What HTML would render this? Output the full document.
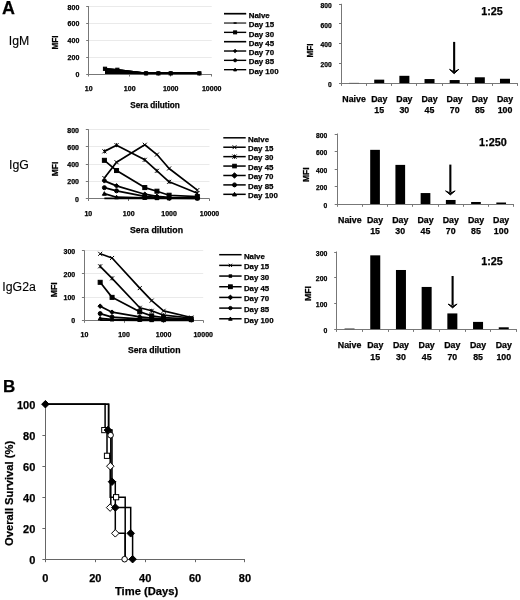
<!DOCTYPE html>
<html><head><meta charset="utf-8"><title>Figure</title>
<style>
html,body{margin:0;padding:0;background:#fff;}
body{width:520px;height:600px;overflow:hidden;position:relative;font-family:"Liberation Sans",sans-serif;}
</style></head><body>
<svg width="520" height="600" viewBox="0 0 520 600" style="position:absolute;left:0;top:0;will-change:transform">
<rect width="520" height="600" fill="#fff"/>
<g font-family="&quot;Liberation Sans&quot;, sans-serif" fill="#000">
<style>text{stroke:#000;stroke-width:0.25px}</style>
<text x="2.1" y="13.7" font-size="17.9" font-weight="bold" text-anchor="start" >A</text>
<text x="19" y="45.3" font-size="12.3" font-weight="normal" text-anchor="middle"  style="stroke-width:0.12px">IgM</text>
<text x="19" y="168.5" font-size="12.3" font-weight="normal" text-anchor="middle"  style="stroke-width:0.12px">IgG</text>
<text x="19.1" y="291.2" font-size="12.3" font-weight="normal" text-anchor="middle"  style="stroke-width:0.12px">IgG2a</text>
<line x1="88.7" y1="57.5" x2="211.7" y2="57.5" stroke="#eaeaea" stroke-width="1"/>
<line x1="88.7" y1="40.5" x2="211.7" y2="40.5" stroke="#eaeaea" stroke-width="1"/>
<line x1="88.7" y1="23.5" x2="211.7" y2="23.5" stroke="#eaeaea" stroke-width="1"/>
<line x1="88.7" y1="6.5" x2="211.7" y2="6.5" stroke="#eaeaea" stroke-width="1"/>
<line x1="88.5" y1="6.1" x2="88.5" y2="74" stroke="#777777" stroke-width="1"/>
<line x1="88.7" y1="74.5" x2="211.7" y2="74.5" stroke="#777777" stroke-width="1"/>
<line x1="86.2" y1="74.5" x2="88.7" y2="74.5" stroke="#777777" stroke-width="1"/>
<text x="79.3" y="77.02" font-size="7" font-weight="bold" text-anchor="end" >0</text>
<line x1="86.2" y1="57.5" x2="88.7" y2="57.5" stroke="#777777" stroke-width="1"/>
<text x="79.3" y="60.17" font-size="7" font-weight="bold" text-anchor="end" >200</text>
<line x1="86.2" y1="40.5" x2="88.7" y2="40.5" stroke="#777777" stroke-width="1"/>
<text x="79.3" y="43.32" font-size="7" font-weight="bold" text-anchor="end" >400</text>
<line x1="86.2" y1="23.5" x2="88.7" y2="23.5" stroke="#777777" stroke-width="1"/>
<text x="79.3" y="26.47" font-size="7" font-weight="bold" text-anchor="end" >600</text>
<line x1="86.2" y1="6.5" x2="88.7" y2="6.5" stroke="#777777" stroke-width="1"/>
<text x="79.3" y="9.62" font-size="7" font-weight="bold" text-anchor="end" >800</text>
<line x1="88.5" y1="74" x2="88.5" y2="76.5" stroke="#777777" stroke-width="1"/>
<text x="88.7" y="90.7" font-size="7" font-weight="bold" text-anchor="middle" >10</text>
<line x1="129.5" y1="74" x2="129.5" y2="76.5" stroke="#777777" stroke-width="1"/>
<text x="129.7" y="90.7" font-size="7" font-weight="bold" text-anchor="middle" >100</text>
<line x1="170.5" y1="74" x2="170.5" y2="76.5" stroke="#777777" stroke-width="1"/>
<text x="170.7" y="90.7" font-size="7" font-weight="bold" text-anchor="middle" >1000</text>
<line x1="211.5" y1="74" x2="211.5" y2="76.5" stroke="#777777" stroke-width="1"/>
<text x="211.7" y="90.7" font-size="7" font-weight="bold" text-anchor="middle" >10000</text>
<polyline points="105.02,72.99 117.36,73.16 146.02,73.33 158.36,73.33 170.7,73.33 199.36,73.33" fill="none" stroke="#000" stroke-width="1.5" stroke-linejoin="round"/>
<polyline points="105.02,68.78 117.36,69.79 146.02,73.33 158.36,73.33 170.7,73.33 199.36,73.33" fill="none" stroke="#000" stroke-width="1.5" stroke-linejoin="round"/>
<polyline points="105.02,68.94 117.36,69.96 146.02,73.33 158.36,73.33 170.7,73.33 199.36,73.33" fill="none" stroke="#000" stroke-width="1.5" stroke-linejoin="round"/>
<polyline points="105.02,69.79 117.36,70.63 146.02,73.33 158.36,73.33 170.7,73.33 199.36,73.33" fill="none" stroke="#000" stroke-width="1.5" stroke-linejoin="round"/>
<polyline points="105.02,70.63 117.36,71.3 146.02,73.33 158.36,73.33 170.7,73.33 199.36,73.33" fill="none" stroke="#000" stroke-width="1.5" stroke-linejoin="round"/>
<polyline points="105.02,71.47 117.36,71.98 146.02,73.33 158.36,73.33 170.7,73.33 199.36,73.33" fill="none" stroke="#000" stroke-width="1.5" stroke-linejoin="round"/>
<polyline points="105.02,72.31 117.36,72.65 146.02,73.33 158.36,73.33 170.7,73.33 199.36,73.33" fill="none" stroke="#000" stroke-width="1.5" stroke-linejoin="round"/>
<polyline points="105.02,73.24 117.36,73.24 146.02,73.33 158.36,73.33 170.7,73.33 199.36,73.33" fill="none" stroke="#000" stroke-width="1.6" stroke-linejoin="round"/>
<circle cx="146.02" cy="73.33" r="1.6" fill="#000" stroke="#000" stroke-width="1"/>
<circle cx="158.36" cy="73.33" r="1.6" fill="#000" stroke="#000" stroke-width="1"/>
<circle cx="170.7" cy="73.33" r="1.6" fill="#000" stroke="#000" stroke-width="1"/>
<circle cx="199.36" cy="73.33" r="1.6" fill="#000" stroke="#000" stroke-width="1"/>
<polyline points="105.02,68.78 117.36,69.79 146.02,73.33 158.36,73.33 170.7,73.33 199.36,73.33" fill="none" stroke="#000" stroke-width="1.5" stroke-linejoin="round"/>
<rect x="103.42" y="67.18" width="3.2" height="3.2" fill="#000" stroke="#000" stroke-width="1"/>
<rect x="115.76" y="68.19" width="3.2" height="3.2" fill="#000" stroke="#000" stroke-width="1"/>
<rect x="144.42" y="71.73" width="3.2" height="3.2" fill="#000" stroke="#000" stroke-width="1"/>
<rect x="156.76" y="71.73" width="3.2" height="3.2" fill="#000" stroke="#000" stroke-width="1"/>
<rect x="169.1" y="71.73" width="3.2" height="3.2" fill="#000" stroke="#000" stroke-width="1"/>
<rect x="197.76" y="71.73" width="3.2" height="3.2" fill="#000" stroke="#000" stroke-width="1"/>
<line x1="224" y1="13.7" x2="246.2" y2="13.7" stroke="#000" stroke-width="1.7"/>
<text x="248.7" y="17.84" font-size="7.9" font-weight="bold" text-anchor="start" >Naive</text>
<line x1="224" y1="23.03" x2="246.2" y2="23.03" stroke="#000" stroke-width="1.1"/>
<path d="M233.6 23.03L236.6 23.03" stroke="#000" stroke-width="1.5" fill="none"/>
<text x="248.7" y="27.17" font-size="7.9" font-weight="bold" text-anchor="start" >Day 15</text>
<line x1="224" y1="32.36" x2="246.2" y2="32.36" stroke="#000" stroke-width="1.4"/>
<rect x="233.6" y="30.86" width="3" height="3" fill="#000" stroke="#000" stroke-width="1"/>
<text x="248.7" y="36.5" font-size="7.9" font-weight="bold" text-anchor="start" >Day 30</text>
<line x1="224" y1="41.69" x2="246.2" y2="41.69" stroke="#000" stroke-width="1.6"/>
<text x="248.7" y="45.83" font-size="7.9" font-weight="bold" text-anchor="start" >Day 45</text>
<line x1="224" y1="51.02" x2="246.2" y2="51.02" stroke="#000" stroke-width="1.4"/>
<path d="M235.1 49.34L236.78 51.02L235.1 52.7L233.42 51.02Z" fill="#000" stroke="#000" stroke-width="1"/>
<text x="248.7" y="55.16" font-size="7.9" font-weight="bold" text-anchor="start" >Day 70</text>
<line x1="224" y1="60.35" x2="246.2" y2="60.35" stroke="#000" stroke-width="1.4"/>
<circle cx="235.1" cy="60.35" r="1.5" fill="#000" stroke="#000" stroke-width="1"/>
<text x="248.7" y="64.49" font-size="7.9" font-weight="bold" text-anchor="start" >Day 85</text>
<line x1="224" y1="69.68" x2="246.2" y2="69.68" stroke="#000" stroke-width="1.4"/>
<path d="M235.1 68.18L236.6 70.88L233.6 70.88Z" fill="#000" stroke="#000" stroke-width="1"/>
<text x="248.7" y="73.82" font-size="7.9" font-weight="bold" text-anchor="start" >Day 100</text>
<text x="155" y="107.8" font-size="8.2" font-weight="bold" text-anchor="middle" >Sera dilution</text>
<text transform="translate(55,42.4) rotate(-90)" x="0" y="0" font-size="8.2" font-weight="bold" text-anchor="middle" dominant-baseline="central">MFI</text>
<line x1="88.3" y1="181.5" x2="209.5" y2="181.5" stroke="#eaeaea" stroke-width="1"/>
<line x1="88.3" y1="164.5" x2="209.5" y2="164.5" stroke="#eaeaea" stroke-width="1"/>
<line x1="88.3" y1="146.5" x2="209.5" y2="146.5" stroke="#eaeaea" stroke-width="1"/>
<line x1="88.3" y1="129.5" x2="209.5" y2="129.5" stroke="#eaeaea" stroke-width="1"/>
<line x1="88.5" y1="129.2" x2="88.5" y2="198.5" stroke="#777777" stroke-width="1"/>
<line x1="88.3" y1="198.5" x2="209.5" y2="198.5" stroke="#777777" stroke-width="1"/>
<line x1="85.8" y1="198.5" x2="88.3" y2="198.5" stroke="#777777" stroke-width="1"/>
<text x="79" y="201.52" font-size="7" font-weight="bold" text-anchor="end" >0</text>
<line x1="85.8" y1="181.5" x2="88.3" y2="181.5" stroke="#777777" stroke-width="1"/>
<text x="79" y="184.32" font-size="7" font-weight="bold" text-anchor="end" >200</text>
<line x1="85.8" y1="164.5" x2="88.3" y2="164.5" stroke="#777777" stroke-width="1"/>
<text x="79" y="167.12" font-size="7" font-weight="bold" text-anchor="end" >400</text>
<line x1="85.8" y1="146.5" x2="88.3" y2="146.5" stroke="#777777" stroke-width="1"/>
<text x="79" y="149.92" font-size="7" font-weight="bold" text-anchor="end" >600</text>
<line x1="85.8" y1="129.5" x2="88.3" y2="129.5" stroke="#777777" stroke-width="1"/>
<text x="79" y="132.72" font-size="7" font-weight="bold" text-anchor="end" >800</text>
<line x1="88.5" y1="198.5" x2="88.5" y2="201" stroke="#777777" stroke-width="1"/>
<text x="88.3" y="215.5" font-size="7" font-weight="bold" text-anchor="middle" >10</text>
<line x1="128.5" y1="198.5" x2="128.5" y2="201" stroke="#777777" stroke-width="1"/>
<text x="128.7" y="215.5" font-size="7" font-weight="bold" text-anchor="middle" >100</text>
<line x1="169.5" y1="198.5" x2="169.5" y2="201" stroke="#777777" stroke-width="1"/>
<text x="169.1" y="215.5" font-size="7" font-weight="bold" text-anchor="middle" >1000</text>
<line x1="209.5" y1="198.5" x2="209.5" y2="201" stroke="#777777" stroke-width="1"/>
<text x="209.5" y="215.5" font-size="7" font-weight="bold" text-anchor="middle" >10000</text>
<polyline points="104.38,198.33 116.54,198.41 144.78,198.41 156.94,198.5 169.1,198.5 197.34,198.5" fill="none" stroke="#000" stroke-width="1.7" stroke-linejoin="round"/>
<polyline points="104.38,178.03 116.54,162.21 144.78,144.75 156.94,154.55 169.1,168.49 197.34,190.07" fill="none" stroke="#000" stroke-width="1.7" stroke-linejoin="round"/>
<path d="M102.38 176.03L106.38 180.03M106.38 176.03L102.38 180.03" stroke="#000" stroke-width="1" fill="none"/>
<path d="M114.54 160.21L118.54 164.21M118.54 160.21L114.54 164.21" stroke="#000" stroke-width="1" fill="none"/>
<path d="M142.78 142.75L146.78 146.75M146.78 142.75L142.78 146.75" stroke="#000" stroke-width="1" fill="none"/>
<path d="M154.94 152.55L158.94 156.55M158.94 152.55L154.94 156.55" stroke="#000" stroke-width="1" fill="none"/>
<path d="M167.1 166.49L171.1 170.49M171.1 166.49L167.1 170.49" stroke="#000" stroke-width="1" fill="none"/>
<path d="M195.34 188.07L199.34 192.07M199.34 188.07L195.34 192.07" stroke="#000" stroke-width="1" fill="none"/>
<polyline points="104.38,151.37 116.54,145.18 144.78,159.8 156.94,170.81 169.1,181.82 197.34,193.17" fill="none" stroke="#000" stroke-width="1.7" stroke-linejoin="round"/>
<path d="M102.38 149.37L106.38 153.37M106.38 149.37L102.38 153.37M104.38 149.37L104.38 153.37" stroke="#000" stroke-width="1" fill="none"/>
<path d="M114.54 143.18L118.54 147.18M118.54 143.18L114.54 147.18M116.54 143.18L116.54 147.18" stroke="#000" stroke-width="1" fill="none"/>
<path d="M142.78 157.8L146.78 161.8M146.78 157.8L142.78 161.8M144.78 157.8L144.78 161.8" stroke="#000" stroke-width="1" fill="none"/>
<path d="M154.94 168.81L158.94 172.81M158.94 168.81L154.94 172.81M156.94 168.81L156.94 172.81" stroke="#000" stroke-width="1" fill="none"/>
<path d="M167.1 179.82L171.1 183.82M171.1 179.82L167.1 183.82M169.1 179.82L169.1 183.82" stroke="#000" stroke-width="1" fill="none"/>
<path d="M195.34 191.17L199.34 195.17M199.34 191.17L195.34 195.17M197.34 191.17L197.34 195.17" stroke="#000" stroke-width="1" fill="none"/>
<polyline points="104.38,160.32 116.54,170.55 144.78,187.58 156.94,191.19 169.1,195.23 197.34,196.61" fill="none" stroke="#000" stroke-width="1.7" stroke-linejoin="round"/>
<rect x="102.38" y="158.32" width="4" height="4" fill="#000" stroke="#000" stroke-width="1"/>
<rect x="114.54" y="168.55" width="4" height="4" fill="#000" stroke="#000" stroke-width="1"/>
<rect x="142.78" y="185.58" width="4" height="4" fill="#000" stroke="#000" stroke-width="1"/>
<rect x="154.94" y="189.19" width="4" height="4" fill="#000" stroke="#000" stroke-width="1"/>
<rect x="167.1" y="193.23" width="4" height="4" fill="#000" stroke="#000" stroke-width="1"/>
<rect x="195.34" y="194.61" width="4" height="4" fill="#000" stroke="#000" stroke-width="1"/>
<polyline points="104.38,180.87 116.54,185.86 144.78,194.2 156.94,196.35 169.1,197.47 197.34,197.81" fill="none" stroke="#000" stroke-width="1.7" stroke-linejoin="round"/>
<path d="M104.38 178.63L106.62 180.87L104.38 183.11L102.14 180.87Z" fill="#000" stroke="#000" stroke-width="1"/>
<path d="M116.54 183.62L118.78 185.86L116.54 188.1L114.3 185.86Z" fill="#000" stroke="#000" stroke-width="1"/>
<path d="M144.78 191.96L147.02 194.2L144.78 196.44L142.54 194.2Z" fill="#000" stroke="#000" stroke-width="1"/>
<path d="M156.94 194.11L159.18 196.35L156.94 198.59L154.7 196.35Z" fill="#000" stroke="#000" stroke-width="1"/>
<path d="M169.1 195.23L171.34 197.47L169.1 199.71L166.86 197.47Z" fill="#000" stroke="#000" stroke-width="1"/>
<path d="M197.34 195.57L199.58 197.81L197.34 200.05L195.1 197.81Z" fill="#000" stroke="#000" stroke-width="1"/>
<polyline points="104.38,187.66 116.54,190.85 144.78,196.35 156.94,197.47 169.1,197.98 197.34,198.24" fill="none" stroke="#000" stroke-width="1.7" stroke-linejoin="round"/>
<circle cx="104.38" cy="187.66" r="2" fill="#000" stroke="#000" stroke-width="1"/>
<circle cx="116.54" cy="190.85" r="2" fill="#000" stroke="#000" stroke-width="1"/>
<circle cx="144.78" cy="196.35" r="2" fill="#000" stroke="#000" stroke-width="1"/>
<circle cx="156.94" cy="197.47" r="2" fill="#000" stroke="#000" stroke-width="1"/>
<circle cx="169.1" cy="197.98" r="2" fill="#000" stroke="#000" stroke-width="1"/>
<circle cx="197.34" cy="198.24" r="2" fill="#000" stroke="#000" stroke-width="1"/>
<polyline points="104.38,193.68 116.54,197.21 144.78,197.81 156.94,198.07 169.1,198.24 197.34,198.33" fill="none" stroke="#000" stroke-width="1.7" stroke-linejoin="round"/>
<path d="M104.38 191.68L106.38 195.28L102.38 195.28Z" fill="#000" stroke="#000" stroke-width="1"/>
<path d="M116.54 195.21L118.54 198.81L114.54 198.81Z" fill="#000" stroke="#000" stroke-width="1"/>
<path d="M144.78 195.81L146.78 199.41L142.78 199.41Z" fill="#000" stroke="#000" stroke-width="1"/>
<path d="M156.94 196.07L158.94 199.67L154.94 199.67Z" fill="#000" stroke="#000" stroke-width="1"/>
<path d="M169.1 196.24L171.1 199.84L167.1 199.84Z" fill="#000" stroke="#000" stroke-width="1"/>
<path d="M197.34 196.33L199.34 199.93L195.34 199.93Z" fill="#000" stroke="#000" stroke-width="1"/>
<line x1="223.3" y1="137.8" x2="245.7" y2="137.8" stroke="#000" stroke-width="1.5"/>
<text x="248" y="141.64" font-size="7.9" font-weight="bold" text-anchor="start" >Naive</text>
<line x1="223.3" y1="147.22" x2="245.7" y2="147.22" stroke="#000" stroke-width="1.5"/>
<path d="M232.6 145.32L236.4 149.12M236.4 145.32L232.6 149.12" stroke="#000" stroke-width="1" fill="none"/>
<text x="248" y="151.06" font-size="7.9" font-weight="bold" text-anchor="start" >Day 15</text>
<line x1="223.3" y1="156.64" x2="245.7" y2="156.64" stroke="#000" stroke-width="1.5"/>
<path d="M232.4 154.54L236.6 158.74M236.6 154.54L232.4 158.74M234.5 154.54L234.5 158.74" stroke="#000" stroke-width="1" fill="none"/>
<text x="248" y="160.48" font-size="7.9" font-weight="bold" text-anchor="start" >Day 30</text>
<line x1="223.3" y1="166.06" x2="245.7" y2="166.06" stroke="#000" stroke-width="1.5"/>
<rect x="232.7" y="164.26" width="3.6" height="3.6" fill="#000" stroke="#000" stroke-width="1"/>
<text x="248" y="169.9" font-size="7.9" font-weight="bold" text-anchor="start" >Day 45</text>
<line x1="223.3" y1="175.48" x2="245.7" y2="175.48" stroke="#000" stroke-width="1.5"/>
<path d="M234.5 172.79L237.19 175.48L234.5 178.17L231.81 175.48Z" fill="#000" stroke="#000" stroke-width="1"/>
<text x="248" y="179.32" font-size="7.9" font-weight="bold" text-anchor="start" >Day 70</text>
<line x1="223.3" y1="184.9" x2="245.7" y2="184.9" stroke="#000" stroke-width="1.5"/>
<circle cx="234.5" cy="184.9" r="2" fill="#000" stroke="#000" stroke-width="1"/>
<text x="248" y="188.74" font-size="7.9" font-weight="bold" text-anchor="start" >Day 85</text>
<line x1="223.3" y1="194.32" x2="245.7" y2="194.32" stroke="#000" stroke-width="1.5"/>
<path d="M234.5 192.32L236.5 195.92L232.5 195.92Z" fill="#000" stroke="#000" stroke-width="1"/>
<text x="248" y="198.16" font-size="7.9" font-weight="bold" text-anchor="start" >Day 100</text>
<text x="156.5" y="232.9" font-size="8.75" font-weight="bold" text-anchor="middle" >Sera dilution</text>
<text transform="translate(55.4,168.9) rotate(-90)" x="0" y="0" font-size="8.5" font-weight="bold" text-anchor="middle" dominant-baseline="central">MFI</text>
<line x1="84.4" y1="297.5" x2="203.2" y2="297.5" stroke="#eaeaea" stroke-width="1"/>
<line x1="84.4" y1="273.5" x2="203.2" y2="273.5" stroke="#eaeaea" stroke-width="1"/>
<line x1="84.4" y1="250.5" x2="203.2" y2="250.5" stroke="#eaeaea" stroke-width="1"/>
<line x1="84.5" y1="250.3" x2="84.5" y2="320.3" stroke="#777777" stroke-width="1"/>
<line x1="84.4" y1="320.5" x2="203.2" y2="320.5" stroke="#777777" stroke-width="1"/>
<line x1="81.9" y1="320.5" x2="84.4" y2="320.5" stroke="#777777" stroke-width="1"/>
<text x="75.2" y="323.32" font-size="7" font-weight="bold" text-anchor="end" >0</text>
<line x1="81.9" y1="297.5" x2="84.4" y2="297.5" stroke="#777777" stroke-width="1"/>
<text x="75.2" y="300.15" font-size="7" font-weight="bold" text-anchor="end" >100</text>
<line x1="81.9" y1="273.5" x2="84.4" y2="273.5" stroke="#777777" stroke-width="1"/>
<text x="75.2" y="276.99" font-size="7" font-weight="bold" text-anchor="end" >200</text>
<line x1="81.9" y1="250.5" x2="84.4" y2="250.5" stroke="#777777" stroke-width="1"/>
<text x="75.2" y="253.82" font-size="7" font-weight="bold" text-anchor="end" >300</text>
<line x1="84.5" y1="320.3" x2="84.5" y2="322.8" stroke="#777777" stroke-width="1"/>
<text x="84.4" y="336.8" font-size="7" font-weight="bold" text-anchor="middle" >10</text>
<line x1="124.5" y1="320.3" x2="124.5" y2="322.8" stroke="#777777" stroke-width="1"/>
<text x="124" y="336.8" font-size="7" font-weight="bold" text-anchor="middle" >100</text>
<line x1="163.5" y1="320.3" x2="163.5" y2="322.8" stroke="#777777" stroke-width="1"/>
<text x="163.6" y="336.8" font-size="7" font-weight="bold" text-anchor="middle" >1000</text>
<line x1="203.5" y1="320.3" x2="203.5" y2="322.8" stroke="#777777" stroke-width="1"/>
<text x="203.2" y="336.8" font-size="7" font-weight="bold" text-anchor="middle" >10000</text>
<polyline points="100.16,320.07 112.08,320.07 139.76,320.3 151.68,320.3 163.6,320.3 191.28,320.3" fill="none" stroke="#000" stroke-width="1.7" stroke-linejoin="round"/>
<polyline points="100.16,253.81 112.08,257.98 139.76,288.1 151.68,300.61 163.6,310.8 191.28,317.52" fill="none" stroke="#000" stroke-width="1.7" stroke-linejoin="round"/>
<path d="M98.16 251.81L102.16 255.81M102.16 251.81L98.16 255.81" stroke="#000" stroke-width="1" fill="none"/>
<path d="M110.08 255.98L114.08 259.98M114.08 255.98L110.08 259.98" stroke="#000" stroke-width="1" fill="none"/>
<path d="M137.76 286.1L141.76 290.1M141.76 286.1L137.76 290.1" stroke="#000" stroke-width="1" fill="none"/>
<path d="M149.68 298.61L153.68 302.61M153.68 298.61L149.68 302.61" stroke="#000" stroke-width="1" fill="none"/>
<path d="M161.6 308.8L165.6 312.8M165.6 308.8L161.6 312.8" stroke="#000" stroke-width="1" fill="none"/>
<path d="M189.28 315.52L193.28 319.52M193.28 315.52L189.28 319.52" stroke="#000" stroke-width="1" fill="none"/>
<polyline points="100.16,266.32 112.08,278.37 139.76,307.79 151.68,310.8 163.6,315.2 191.28,317.98" fill="none" stroke="#000" stroke-width="1.7" stroke-linejoin="round"/>
<path d="M98.16 264.32L102.16 268.32M102.16 264.32L98.16 268.32M100.16 264.32L100.16 268.32" stroke="#000" stroke-width="1" fill="none"/>
<path d="M110.08 276.37L114.08 280.37M114.08 276.37L110.08 280.37M112.08 276.37L112.08 280.37" stroke="#000" stroke-width="1" fill="none"/>
<path d="M137.76 305.79L141.76 309.79M141.76 305.79L137.76 309.79M139.76 305.79L139.76 309.79" stroke="#000" stroke-width="1" fill="none"/>
<path d="M149.68 308.8L153.68 312.8M153.68 308.8L149.68 312.8M151.68 308.8L151.68 312.8" stroke="#000" stroke-width="1" fill="none"/>
<path d="M161.6 313.2L165.6 317.2M165.6 313.2L161.6 317.2M163.6 313.2L163.6 317.2" stroke="#000" stroke-width="1" fill="none"/>
<path d="M189.28 315.98L193.28 319.98M193.28 315.98L189.28 319.98M191.28 315.98L191.28 319.98" stroke="#000" stroke-width="1" fill="none"/>
<polyline points="100.16,282.31 112.08,297.37 139.76,311.73 151.68,315.9 163.6,317.52 191.28,319.14" fill="none" stroke="#000" stroke-width="1.7" stroke-linejoin="round"/>
<rect x="98.16" y="280.31" width="4" height="4" fill="#000" stroke="#000" stroke-width="1"/>
<rect x="110.08" y="295.37" width="4" height="4" fill="#000" stroke="#000" stroke-width="1"/>
<rect x="137.76" y="309.73" width="4" height="4" fill="#000" stroke="#000" stroke-width="1"/>
<rect x="149.68" y="313.9" width="4" height="4" fill="#000" stroke="#000" stroke-width="1"/>
<rect x="161.6" y="315.52" width="4" height="4" fill="#000" stroke="#000" stroke-width="1"/>
<rect x="189.28" y="317.14" width="4" height="4" fill="#000" stroke="#000" stroke-width="1"/>
<polyline points="100.16,306.17 112.08,312.19 139.76,316.82 151.68,317.98 163.6,318.91 191.28,319.61" fill="none" stroke="#000" stroke-width="1.7" stroke-linejoin="round"/>
<path d="M100.16 303.93L102.4 306.17L100.16 308.41L97.92 306.17Z" fill="#000" stroke="#000" stroke-width="1"/>
<path d="M112.08 309.95L114.32 312.19L112.08 314.43L109.84 312.19Z" fill="#000" stroke="#000" stroke-width="1"/>
<path d="M139.76 314.58L142 316.82L139.76 319.06L137.52 316.82Z" fill="#000" stroke="#000" stroke-width="1"/>
<path d="M151.68 315.74L153.92 317.98L151.68 320.22L149.44 317.98Z" fill="#000" stroke="#000" stroke-width="1"/>
<path d="M163.6 316.67L165.84 318.91L163.6 321.15L161.36 318.91Z" fill="#000" stroke="#000" stroke-width="1"/>
<path d="M191.28 317.37L193.52 319.61L191.28 321.85L189.04 319.61Z" fill="#000" stroke="#000" stroke-width="1"/>
<polyline points="100.16,313.58 112.08,317.06 139.76,318.91 151.68,319.37 163.6,319.61 191.28,319.84" fill="none" stroke="#000" stroke-width="1.7" stroke-linejoin="round"/>
<circle cx="100.16" cy="313.58" r="2" fill="#000" stroke="#000" stroke-width="1"/>
<circle cx="112.08" cy="317.06" r="2" fill="#000" stroke="#000" stroke-width="1"/>
<circle cx="139.76" cy="318.91" r="2" fill="#000" stroke="#000" stroke-width="1"/>
<circle cx="151.68" cy="319.37" r="2" fill="#000" stroke="#000" stroke-width="1"/>
<circle cx="163.6" cy="319.61" r="2" fill="#000" stroke="#000" stroke-width="1"/>
<circle cx="191.28" cy="319.84" r="2" fill="#000" stroke="#000" stroke-width="1"/>
<polyline points="100.16,318.45 112.08,319.37 139.76,319.84 151.68,320.07 163.6,320.07 191.28,320.07" fill="none" stroke="#000" stroke-width="1.7" stroke-linejoin="round"/>
<path d="M100.16 316.45L102.16 320.05L98.16 320.05Z" fill="#000" stroke="#000" stroke-width="1"/>
<path d="M112.08 317.37L114.08 320.97L110.08 320.97Z" fill="#000" stroke="#000" stroke-width="1"/>
<path d="M139.76 317.84L141.76 321.44L137.76 321.44Z" fill="#000" stroke="#000" stroke-width="1"/>
<path d="M151.68 318.07L153.68 321.67L149.68 321.67Z" fill="#000" stroke="#000" stroke-width="1"/>
<path d="M163.6 318.07L165.6 321.67L161.6 321.67Z" fill="#000" stroke="#000" stroke-width="1"/>
<path d="M191.28 318.07L193.28 321.67L189.28 321.67Z" fill="#000" stroke="#000" stroke-width="1"/>
<line x1="219.2" y1="254.7" x2="241.6" y2="254.7" stroke="#000" stroke-width="1.5"/>
<text x="243.9" y="258.53" font-size="7.85" font-weight="bold" text-anchor="start" >Naive</text>
<line x1="219.2" y1="265.38" x2="241.6" y2="265.38" stroke="#000" stroke-width="1.5"/>
<path d="M228.8 263.78L232 266.98M232 263.78L228.8 266.98" stroke="#000" stroke-width="1" fill="none"/>
<text x="243.9" y="269.21" font-size="7.85" font-weight="bold" text-anchor="start" >Day 15</text>
<line x1="219.2" y1="276.06" x2="241.6" y2="276.06" stroke="#000" stroke-width="1.5"/>
<rect x="229.2" y="274.86" width="2.4" height="2.4" fill="#000" stroke="#000" stroke-width="1"/>
<text x="243.9" y="279.89" font-size="7.85" font-weight="bold" text-anchor="start" >Day 30</text>
<line x1="219.2" y1="286.74" x2="241.6" y2="286.74" stroke="#000" stroke-width="1.5"/>
<rect x="228.5" y="284.84" width="3.8" height="3.8" fill="#000" stroke="#000" stroke-width="1"/>
<text x="243.9" y="290.57" font-size="7.85" font-weight="bold" text-anchor="start" >Day 45</text>
<line x1="219.2" y1="297.42" x2="241.6" y2="297.42" stroke="#000" stroke-width="1.5"/>
<path d="M230.4 295.07L232.75 297.42L230.4 299.77L228.05 297.42Z" fill="#000" stroke="#000" stroke-width="1"/>
<text x="243.9" y="301.25" font-size="7.85" font-weight="bold" text-anchor="start" >Day 70</text>
<line x1="219.2" y1="308.1" x2="241.6" y2="308.1" stroke="#000" stroke-width="1.5"/>
<circle cx="230.4" cy="308.1" r="1.7" fill="#000" stroke="#000" stroke-width="1"/>
<text x="243.9" y="311.93" font-size="7.85" font-weight="bold" text-anchor="start" >Day 85</text>
<line x1="219.2" y1="318.78" x2="241.6" y2="318.78" stroke="#000" stroke-width="1.5"/>
<path d="M230.4 316.98L232.2 320.22L228.6 320.22Z" fill="#000" stroke="#000" stroke-width="1"/>
<text x="243.9" y="322.61" font-size="7.85" font-weight="bold" text-anchor="start" >Day 100</text>
<text x="154.2" y="352.5" font-size="8.7" font-weight="bold" text-anchor="middle" >Sera dilution</text>
<text transform="translate(54.3,289.8) rotate(-90)" x="0" y="0" font-size="8.7" font-weight="bold" text-anchor="middle" dominant-baseline="central">MFI</text>
<line x1="341.5" y1="3.8" x2="341.5" y2="83.1" stroke="#777777" stroke-width="1"/>
<line x1="341.5" y1="83.5" x2="517.55" y2="83.5" stroke="#777777" stroke-width="1"/>
<line x1="339" y1="83.5" x2="341.5" y2="83.5" stroke="#777777" stroke-width="1"/>
<text x="331.7" y="86.81" font-size="6.7" font-weight="bold" text-anchor="end" >0</text>
<line x1="339" y1="63.5" x2="341.5" y2="63.5" stroke="#777777" stroke-width="1"/>
<text x="331.7" y="67.11" font-size="6.7" font-weight="bold" text-anchor="end" >200</text>
<line x1="339" y1="43.5" x2="341.5" y2="43.5" stroke="#777777" stroke-width="1"/>
<text x="331.7" y="47.41" font-size="6.7" font-weight="bold" text-anchor="end" >400</text>
<line x1="339" y1="23.5" x2="341.5" y2="23.5" stroke="#777777" stroke-width="1"/>
<text x="331.7" y="27.71" font-size="6.7" font-weight="bold" text-anchor="end" >600</text>
<line x1="339" y1="4.5" x2="341.5" y2="4.5" stroke="#777777" stroke-width="1"/>
<text x="331.7" y="8.01" font-size="6.7" font-weight="bold" text-anchor="end" >800</text>
<line x1="341.5" y1="83.1" x2="341.5" y2="85.9" stroke="#777777" stroke-width="1"/>
<line x1="366.5" y1="83.1" x2="366.5" y2="85.9" stroke="#777777" stroke-width="1"/>
<line x1="391.5" y1="83.1" x2="391.5" y2="85.9" stroke="#777777" stroke-width="1"/>
<line x1="416.5" y1="83.1" x2="416.5" y2="85.9" stroke="#777777" stroke-width="1"/>
<line x1="442.5" y1="83.1" x2="442.5" y2="85.9" stroke="#777777" stroke-width="1"/>
<line x1="467.5" y1="83.1" x2="467.5" y2="85.9" stroke="#777777" stroke-width="1"/>
<line x1="492.5" y1="83.1" x2="492.5" y2="85.9" stroke="#777777" stroke-width="1"/>
<line x1="517.5" y1="83.1" x2="517.5" y2="85.9" stroke="#777777" stroke-width="1"/>
<rect x="349.07" y="82.9" width="10" height="0.2" fill="#000"/>
<text x="354.07" y="102.2" font-size="8.8" font-weight="bold" text-anchor="middle" >Naive</text>
<rect x="374.23" y="79.65" width="10" height="3.45" fill="#000"/>
<text x="379.23" y="102.2" font-size="8.8" font-weight="bold" text-anchor="middle" >Day</text>
<text x="379.23" y="113" font-size="8.8" font-weight="bold" text-anchor="middle" >15</text>
<rect x="399.38" y="75.81" width="10" height="7.29" fill="#000"/>
<text x="404.38" y="102.2" font-size="8.8" font-weight="bold" text-anchor="middle" >Day</text>
<text x="404.38" y="113" font-size="8.8" font-weight="bold" text-anchor="middle" >30</text>
<rect x="424.52" y="79.06" width="10" height="4.04" fill="#000"/>
<text x="429.52" y="102.2" font-size="8.8" font-weight="bold" text-anchor="middle" >Day</text>
<text x="429.52" y="113" font-size="8.8" font-weight="bold" text-anchor="middle" >45</text>
<rect x="449.68" y="80.05" width="10" height="3.05" fill="#000"/>
<text x="454.68" y="102.2" font-size="8.8" font-weight="bold" text-anchor="middle" >Day</text>
<text x="454.68" y="113" font-size="8.8" font-weight="bold" text-anchor="middle" >70</text>
<rect x="474.82" y="77.29" width="10" height="5.81" fill="#000"/>
<text x="479.82" y="102.2" font-size="8.8" font-weight="bold" text-anchor="middle" >Day</text>
<text x="479.82" y="113" font-size="8.8" font-weight="bold" text-anchor="middle" >85</text>
<rect x="499.98" y="78.77" width="10" height="4.33" fill="#000"/>
<text x="504.98" y="102.2" font-size="8.8" font-weight="bold" text-anchor="middle" >Day</text>
<text x="504.98" y="113" font-size="8.8" font-weight="bold" text-anchor="middle" >100</text>
<text x="502.9" y="15" font-size="10.8" font-weight="bold" text-anchor="end" >1:25</text>
<line x1="454.15" y1="41.9" x2="454.15" y2="71.2" stroke="#000" stroke-width="2.1"/>
<path d="M449.55 69.4L454.15 71.77L458.75 69.4L454.15 73.7Z" fill="#000" stroke="#000" stroke-width="1" stroke-linejoin="round"/>
<text transform="translate(310.3,50.5) rotate(-90)" x="0" y="0" font-size="8.2" font-weight="bold" text-anchor="middle" dominant-baseline="central">MFI</text>
<line x1="337.5" y1="133.5" x2="337.5" y2="204" stroke="#777777" stroke-width="1"/>
<line x1="337.2" y1="204.5" x2="513.81" y2="204.5" stroke="#777777" stroke-width="1"/>
<line x1="334.7" y1="204.5" x2="337.2" y2="204.5" stroke="#777777" stroke-width="1"/>
<text x="327.2" y="207.71" font-size="6.7" font-weight="bold" text-anchor="end" >0</text>
<line x1="334.7" y1="186.5" x2="337.2" y2="186.5" stroke="#777777" stroke-width="1"/>
<text x="327.2" y="190.21" font-size="6.7" font-weight="bold" text-anchor="end" >200</text>
<line x1="334.7" y1="169.5" x2="337.2" y2="169.5" stroke="#777777" stroke-width="1"/>
<text x="327.2" y="172.71" font-size="6.7" font-weight="bold" text-anchor="end" >400</text>
<line x1="334.7" y1="151.5" x2="337.2" y2="151.5" stroke="#777777" stroke-width="1"/>
<text x="327.2" y="155.21" font-size="6.7" font-weight="bold" text-anchor="end" >600</text>
<line x1="334.7" y1="134.5" x2="337.2" y2="134.5" stroke="#777777" stroke-width="1"/>
<text x="327.2" y="137.71" font-size="6.7" font-weight="bold" text-anchor="end" >800</text>
<line x1="337.5" y1="204" x2="337.5" y2="206.8" stroke="#777777" stroke-width="1"/>
<line x1="362.5" y1="204" x2="362.5" y2="206.8" stroke="#777777" stroke-width="1"/>
<line x1="387.5" y1="204" x2="387.5" y2="206.8" stroke="#777777" stroke-width="1"/>
<line x1="412.5" y1="204" x2="412.5" y2="206.8" stroke="#777777" stroke-width="1"/>
<line x1="438.5" y1="204" x2="438.5" y2="206.8" stroke="#777777" stroke-width="1"/>
<line x1="463.5" y1="204" x2="463.5" y2="206.8" stroke="#777777" stroke-width="1"/>
<line x1="488.5" y1="204" x2="488.5" y2="206.8" stroke="#777777" stroke-width="1"/>
<line x1="513.5" y1="204" x2="513.5" y2="206.8" stroke="#777777" stroke-width="1"/>
<text x="349.81" y="223.1" font-size="8.8" font-weight="bold" text-anchor="middle" >Naive</text>
<rect x="370.19" y="149.84" width="9.7" height="54.16" fill="#000"/>
<text x="375.04" y="223.1" font-size="8.8" font-weight="bold" text-anchor="middle" >Day</text>
<text x="375.04" y="234.2" font-size="8.8" font-weight="bold" text-anchor="middle" >15</text>
<rect x="395.42" y="164.89" width="9.7" height="39.11" fill="#000"/>
<text x="400.27" y="223.1" font-size="8.8" font-weight="bold" text-anchor="middle" >Day</text>
<text x="400.27" y="234.2" font-size="8.8" font-weight="bold" text-anchor="middle" >30</text>
<rect x="420.65" y="193.06" width="9.7" height="10.94" fill="#000"/>
<text x="425.5" y="223.1" font-size="8.8" font-weight="bold" text-anchor="middle" >Day</text>
<text x="425.5" y="234.2" font-size="8.8" font-weight="bold" text-anchor="middle" >45</text>
<rect x="445.88" y="199.97" width="9.7" height="4.03" fill="#000"/>
<text x="450.74" y="223.1" font-size="8.8" font-weight="bold" text-anchor="middle" >Day</text>
<text x="450.74" y="234.2" font-size="8.8" font-weight="bold" text-anchor="middle" >70</text>
<rect x="471.12" y="201.99" width="9.7" height="2.01" fill="#000"/>
<text x="475.97" y="223.1" font-size="8.8" font-weight="bold" text-anchor="middle" >Day</text>
<text x="475.97" y="234.2" font-size="8.8" font-weight="bold" text-anchor="middle" >85</text>
<rect x="496.34" y="202.51" width="9.7" height="1.49" fill="#000"/>
<text x="501.19" y="223.1" font-size="8.8" font-weight="bold" text-anchor="middle" >Day</text>
<text x="501.19" y="234.2" font-size="8.8" font-weight="bold" text-anchor="middle" >100</text>
<text x="506.7" y="145.8" font-size="10.8" font-weight="bold" text-anchor="end" >1:250</text>
<line x1="450.35" y1="164.6" x2="450.35" y2="192.4" stroke="#000" stroke-width="2.1"/>
<path d="M445.55 190.9L450.35 193.1L455.15 190.9L450.35 194.9Z" fill="#000" stroke="#000" stroke-width="1" stroke-linejoin="round"/>
<text transform="translate(306.3,174.8) rotate(-90)" x="0" y="0" font-size="8.5" font-weight="bold" text-anchor="middle" dominant-baseline="central">MFI</text>
<line x1="336.5" y1="251.5" x2="336.5" y2="329.1" stroke="#777777" stroke-width="1"/>
<line x1="336.7" y1="329.5" x2="516.6" y2="329.5" stroke="#777777" stroke-width="1"/>
<line x1="334.2" y1="329.5" x2="336.7" y2="329.5" stroke="#777777" stroke-width="1"/>
<text x="327.3" y="332.88" font-size="6.9" font-weight="bold" text-anchor="end" >0</text>
<line x1="334.2" y1="303.5" x2="336.7" y2="303.5" stroke="#777777" stroke-width="1"/>
<text x="327.3" y="307.18" font-size="6.9" font-weight="bold" text-anchor="end" >100</text>
<line x1="334.2" y1="277.5" x2="336.7" y2="277.5" stroke="#777777" stroke-width="1"/>
<text x="327.3" y="281.48" font-size="6.9" font-weight="bold" text-anchor="end" >200</text>
<line x1="334.2" y1="252.5" x2="336.7" y2="252.5" stroke="#777777" stroke-width="1"/>
<text x="327.3" y="255.78" font-size="6.9" font-weight="bold" text-anchor="end" >300</text>
<line x1="336.5" y1="329.1" x2="336.5" y2="331.9" stroke="#777777" stroke-width="1"/>
<line x1="362.5" y1="329.1" x2="362.5" y2="331.9" stroke="#777777" stroke-width="1"/>
<line x1="388.5" y1="329.1" x2="388.5" y2="331.9" stroke="#777777" stroke-width="1"/>
<line x1="413.5" y1="329.1" x2="413.5" y2="331.9" stroke="#777777" stroke-width="1"/>
<line x1="439.5" y1="329.1" x2="439.5" y2="331.9" stroke="#777777" stroke-width="1"/>
<line x1="465.5" y1="329.1" x2="465.5" y2="331.9" stroke="#777777" stroke-width="1"/>
<line x1="490.5" y1="329.1" x2="490.5" y2="331.9" stroke="#777777" stroke-width="1"/>
<line x1="516.5" y1="329.1" x2="516.5" y2="331.9" stroke="#777777" stroke-width="1"/>
<rect x="344.55" y="328.59" width="10" height="0.51" fill="#000"/>
<text x="349.55" y="348" font-size="8.8" font-weight="bold" text-anchor="middle" >Naive</text>
<rect x="370.25" y="255.34" width="10" height="73.76" fill="#000"/>
<text x="375.25" y="348" font-size="8.8" font-weight="bold" text-anchor="middle" >Day</text>
<text x="375.25" y="359.8" font-size="8.8" font-weight="bold" text-anchor="middle" >15</text>
<rect x="395.95" y="269.99" width="10" height="59.11" fill="#000"/>
<text x="400.95" y="348" font-size="8.8" font-weight="bold" text-anchor="middle" >Day</text>
<text x="400.95" y="359.8" font-size="8.8" font-weight="bold" text-anchor="middle" >30</text>
<rect x="421.65" y="286.95" width="10" height="42.15" fill="#000"/>
<text x="426.65" y="348" font-size="8.8" font-weight="bold" text-anchor="middle" >Day</text>
<text x="426.65" y="359.8" font-size="8.8" font-weight="bold" text-anchor="middle" >45</text>
<rect x="447.35" y="313.42" width="10" height="15.68" fill="#000"/>
<text x="452.35" y="348" font-size="8.8" font-weight="bold" text-anchor="middle" >Day</text>
<text x="452.35" y="359.8" font-size="8.8" font-weight="bold" text-anchor="middle" >70</text>
<rect x="473.05" y="321.9" width="10" height="7.2" fill="#000"/>
<text x="478.05" y="348" font-size="8.8" font-weight="bold" text-anchor="middle" >Day</text>
<text x="478.05" y="359.8" font-size="8.8" font-weight="bold" text-anchor="middle" >85</text>
<rect x="498.75" y="327.3" width="10" height="1.8" fill="#000"/>
<text x="503.75" y="348" font-size="8.8" font-weight="bold" text-anchor="middle" >Day</text>
<text x="503.75" y="359.8" font-size="8.8" font-weight="bold" text-anchor="middle" >100</text>
<text x="502.9" y="265.4" font-size="10.8" font-weight="bold" text-anchor="end" >1:25</text>
<line x1="452.6" y1="276" x2="452.6" y2="305.4" stroke="#000" stroke-width="2.1"/>
<path d="M448.1 304.1L452.6 306.19L457.1 304.1L452.6 307.9Z" fill="#000" stroke="#000" stroke-width="1" stroke-linejoin="round"/>
<text transform="translate(307.6,293.5) rotate(-90)" x="0" y="0" font-size="8.7" font-weight="bold" text-anchor="middle" dominant-baseline="central">MFI</text>
<text x="3" y="391.5" font-size="17" font-weight="bold" text-anchor="start" >B</text>
<line x1="45.5" y1="403.7" x2="45.5" y2="559.2" stroke="#666666" stroke-width="1"/>
<line x1="45.4" y1="559.5" x2="244.9" y2="559.5" stroke="#666666" stroke-width="1"/>
<line x1="42.4" y1="559.5" x2="45.4" y2="559.5" stroke="#666666" stroke-width="1"/>
<text x="35.3" y="564" font-size="11" font-weight="bold" text-anchor="end" >0</text>
<line x1="42.4" y1="528.5" x2="45.4" y2="528.5" stroke="#666666" stroke-width="1"/>
<text x="35.3" y="533" font-size="11" font-weight="bold" text-anchor="end" >20</text>
<line x1="42.4" y1="497.5" x2="45.4" y2="497.5" stroke="#666666" stroke-width="1"/>
<text x="35.3" y="502" font-size="11" font-weight="bold" text-anchor="end" >40</text>
<line x1="42.4" y1="466.5" x2="45.4" y2="466.5" stroke="#666666" stroke-width="1"/>
<text x="35.3" y="471" font-size="11" font-weight="bold" text-anchor="end" >60</text>
<line x1="42.4" y1="435.5" x2="45.4" y2="435.5" stroke="#666666" stroke-width="1"/>
<text x="35.3" y="440" font-size="11" font-weight="bold" text-anchor="end" >80</text>
<line x1="42.4" y1="404.5" x2="45.4" y2="404.5" stroke="#666666" stroke-width="1"/>
<text x="35.3" y="409" font-size="11" font-weight="bold" text-anchor="end" >100</text>
<line x1="45.5" y1="559.2" x2="45.5" y2="562.2" stroke="#666666" stroke-width="1"/>
<text x="45.4" y="581.9" font-size="11" font-weight="bold" text-anchor="middle" >0</text>
<line x1="95.5" y1="559.2" x2="95.5" y2="562.2" stroke="#666666" stroke-width="1"/>
<text x="95.28" y="581.9" font-size="11" font-weight="bold" text-anchor="middle" >20</text>
<line x1="145.5" y1="559.2" x2="145.5" y2="562.2" stroke="#666666" stroke-width="1"/>
<text x="145.15" y="581.9" font-size="11" font-weight="bold" text-anchor="middle" >40</text>
<line x1="195.5" y1="559.2" x2="195.5" y2="562.2" stroke="#666666" stroke-width="1"/>
<text x="195.03" y="581.9" font-size="11" font-weight="bold" text-anchor="middle" >60</text>
<line x1="244.5" y1="559.2" x2="244.5" y2="562.2" stroke="#666666" stroke-width="1"/>
<text x="244.9" y="581.9" font-size="11" font-weight="bold" text-anchor="middle" >80</text>
<text x="146.6" y="594.6" font-size="11.2" font-weight="bold" text-anchor="middle" >Time (Days)</text>
<text transform="translate(12.8,493.4) rotate(-90)" x="0" y="0" font-size="11.2" font-weight="bold" text-anchor="middle">Overall Survival (%)</text>
<path d="M45.4 404.2H105.1V430.09H107V455.81H110.2V497.2H125.2V559.2" fill="none" stroke="#000" stroke-width="1.5"/>
<path d="M45.4 404.2H108.6V430.09H110.8V507.59H115.3V533.32H125.2V559.2" fill="none" stroke="#000" stroke-width="1.5"/>
<path d="M45.4 404.2H108.6V430.09H112V481.7H115.3V507.59H130.7V533.32H132.6V559.2" fill="none" stroke="#000" stroke-width="1.5"/>
<rect x="101.7" y="427.49" width="5.2" height="5.2" fill="#fff" stroke="#000" stroke-width="1"/>
<rect x="104.4" y="453.21" width="5.2" height="5.2" fill="#fff" stroke="#000" stroke-width="1"/>
<rect x="113.5" y="494.6" width="5.2" height="5.2" fill="#fff" stroke="#000" stroke-width="1"/>
<circle cx="110.6" cy="435.2" r="2.8" fill="#fff" stroke="#000" stroke-width="1"/>
<circle cx="124.6" cy="559.2" r="2.8" fill="#fff" stroke="#000" stroke-width="1"/>
<path d="M110.3 462.45L114.05 466.2L110.3 469.95L106.55 466.2Z" fill="#fff" stroke="#000" stroke-width="1"/>
<path d="M110.1 503.84L113.85 507.59L110.1 511.34L106.35 507.59Z" fill="#fff" stroke="#000" stroke-width="1"/>
<path d="M115.3 529.57L119.05 533.32L115.3 537.07L111.55 533.32Z" fill="#fff" stroke="#000" stroke-width="1"/>
<path d="M45.4 400.45L49.15 404.2L45.4 407.95L41.65 404.2Z" fill="#000" stroke="#000" stroke-width="1"/>
<path d="M107.9 426.34L111.65 430.09L107.9 433.84L104.15 430.09Z" fill="#000" stroke="#000" stroke-width="1"/>
<path d="M112 477.95L115.75 481.7L112 485.45L108.25 481.7Z" fill="#000" stroke="#000" stroke-width="1"/>
<path d="M115.3 503.84L119.05 507.59L115.3 511.34L111.55 507.59Z" fill="#000" stroke="#000" stroke-width="1"/>
<path d="M130.7 529.57L134.45 533.32L130.7 537.07L126.95 533.32Z" fill="#000" stroke="#000" stroke-width="1"/>
<path d="M132.6 555.45L136.35 559.2L132.6 562.95L128.85 559.2Z" fill="#000" stroke="#000" stroke-width="1"/>
</g></svg>
</body></html>
